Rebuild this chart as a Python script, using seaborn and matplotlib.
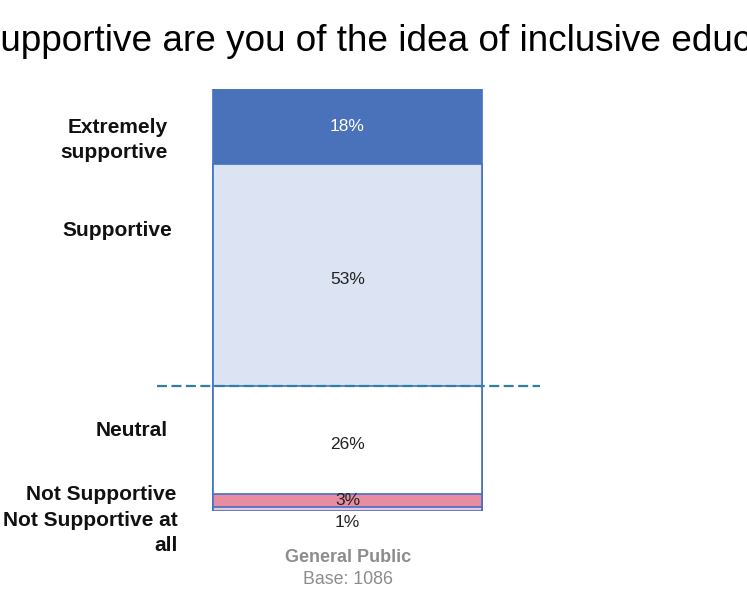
import pandas as pd
import seaborn as sns
import matplotlib.pyplot as plt

# survey answers, bottom to top
answers = ["Not Supportive at all", "Not Supportive", "Neutral", "Supportive", "Extremely supportive"]
shares = [1, 3, 26, 53, 18]
seg_colors = ["#E9C6D9", "#E98BA1", "#FFFFFF", "#DCE3F2", "#4A72BB"]
label_colors = ["#222222", "#222222", "#222222", "#222222", "#FFFFFF"]
group = "General Public"
base_n = 1086
title = "How supportive are you of the idea of inclusive education?"

df = pd.DataFrame({"answer": answers, "share": shares, "color": seg_colors})
df["top"] = df["share"].cumsum()
df["mid"] = df["top"] - df["share"] / 2
df["group"] = group

sns.set_style("white")
plt.rcParams["font.family"] = ["Liberation Sans", "DejaVu Sans"]

W, H = 747, 598
fig = plt.figure(figsize=(W / 100, H / 100), dpi=100)
# axes box in pixels: x 157..540, y 89..511
ax = fig.add_axes([157 / W, 1 - 511 / H, (540 - 157) / W, (511 - 89) / H])

# stacked bar: draw cumulative totals from the top segment down
for i in range(len(df) - 1, -1, -1):
    row = df.iloc[[i]]
    sns.barplot(data=row, x="group", y="top", color=row["color"].iloc[0],
                saturation=1, width=0.8, edgecolor="#4472C4", linewidth=1.2, ax=ax)

ax.set_xlim(-0.5665, 0.5725)
ax.set_ylim(0, df["top"].iloc[-1])
ax.axis("off")

# divider between positive answers and the rest
ax.axhline(df["top"].iloc[2], color="#2E7FA3", lw=1.6, ls=(0, (4.5, 2)), zorder=5)

# value labels
for i, row in df.iterrows():
    txt = f"{row['share']}%"
    if i == 0:
        ax.annotate(txt, (0, 0), xytext=(0, -3), textcoords="offset points",
                    ha="center", va="top", fontsize=12.5, color="#222222")
    else:
        dy = -3 if row["share"] > 20 and i < 4 else 0
        ax.annotate(txt, (0, row["mid"]), xytext=(0, dy), textcoords="offset points",
                    ha="center", va="center", fontsize=12.5, color=label_colors[i])

# category labels on the left (pixel positions of the original)
left_labels = [
    ("Not Supportive at\nall", 178, 533),
    ("Not Supportive", 176, 494),
    ("Neutral", 168, 430),
    ("Supportive", 172, 230),
    ("Extremely\nsupportive", 168, 140),
]
for text, px, py in left_labels:
    fig.text(px / W, 1 - py / H, text, ha="right", va="center", fontsize=15,
             fontweight="bold", color="#111111", linespacing=1.4)

fig.text(348 / W, 1 - 557 / H, group, ha="center", va="center", fontsize=13,
         fontweight="bold", color="#8C8C8C")
fig.text(348 / W, 1 - 580 / H, f"Base: {base_n}", ha="center", va="center",
         fontsize=12.8, color="#8C8C8C")

fig.text(375 / W, 1 - 51 / H, title, ha="center", va="baseline", fontsize=26.6,
         color="#000000")

fig.savefig("out.png", dpi=100)
